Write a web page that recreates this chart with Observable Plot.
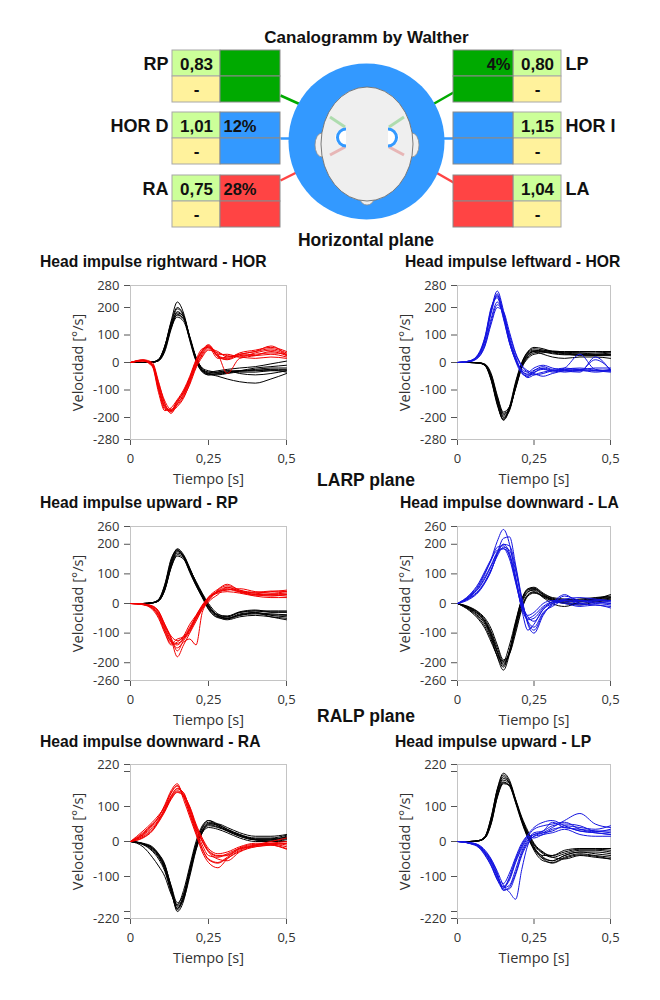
<!DOCTYPE html>
<html><head><meta charset="utf-8">
<script src="https://cdn.jsdelivr.net/npm/d3@7"></script>
<script src="https://cdn.jsdelivr.net/npm/@observablehq/plot@0.6"></script>
<style>
body{margin:0;background:#fff;}
#page{position:relative;width:660px;height:1000px;overflow:hidden;font-family:"Liberation Sans",Arial,sans-serif;}
.box{position:absolute;}
.ttl{position:absolute;font-weight:bold;font-size:15.7px;white-space:nowrap;line-height:1;transform:translateY(-50%);color:#111;}
.plane{position:absolute;font-weight:bold;font-size:17.5px;white-space:nowrap;line-height:1;transform:translate(-50%,-50%);left:366px;color:#111;}
</style></head><body><div id="page"></div>
<script>
// ---------- Canalogram data ----------
const canals = ["RP", "HOR D", "RA", "LP", "HOR I", "LA"];
const canalSide = ["L", "L", "L", "R", "R", "R"];
const canalRow = [0, 1, 2, 0, 1, 2];
const gains = ["0,83", "1,01", "0,75", "0,80", "1,15", "1,04"];
const secondValues = ["-", "-", "-", "-", "-", "-"];
const percents = ["", "12%", "28%", "4%", "", ""];
const canalColors = ["#00aa00", "#3399ff", "#ff4444", "#00aa00", "#3399ff", "#ff4444"];

// ---------- Trace data (time in s, velocity in deg/s) ----------
const times = [0, 0.04, 0.07, 0.09, 0.11, 0.13, 0.15, 0.17, 0.19, 0.21, 0.23, 0.25, 0.28, 0.31, 0.35, 0.40, 0.45, 0.50];
const xTicks = [0, 0.25, 0.5];

// Horizontal - rightward
const horRightHead = [
  [0, 0, 2, 10, 60, 150, 220, 180, 90, 10, -35, -45, -40, -35, -30, -25, -20, -20],
  [0, 0, 1, 8, 50, 130, 185, 165, 90, 15, -30, -45, -45, -40, -35, -35, -30, -30],
  [0, 0, 1, 6, 40, 120, 175, 160, 95, 20, -25, -40, -50, -60, -70, -75, -60, -40],
  [0, 0, 2, 12, 60, 140, 195, 170, 80, 5, -30, -35, -30, -25, -20, -15, -5, 5],
  [0, 0, 1, 7, 45, 125, 165, 150, 85, 18, -20, -30, -35, -30, -30, -28, -25, -25],
  [0, 0, 1, 9, 55, 135, 180, 168, 92, 12, -28, -42, -42, -38, -32, -30, -28, -35],
  [0, 0, 2, 11, 58, 145, 200, 172, 85, 8, -32, -40, -35, -30, -40, -45, -40, -30],
  [0, 0, 1, 7, 48, 128, 172, 158, 88, 16, -22, -35, -38, -35, -30, -20, -15, -10]
];
const horRightEye = [
  [0, 8, -10, -90, -160, -175, -140, -110, -60, 0, 40, 60, 20, 10, 25, 30, 35, 30],
  [0, 10, 0, -70, -150, -185, -150, -120, -70, -15, 30, 55, 30, -40, 15, 25, 40, 25],
  [0, 5, -15, -110, -175, -165, -135, -100, -50, 10, 50, 55, 15, 20, 30, 40, 50, 35],
  [0, 6, -5, -75, -140, -170, -155, -125, -80, -20, 20, 45, 35, 25, 20, 15, 20, 15],
  [0, 9, -8, -95, -165, -180, -145, -105, -55, 5, 45, 65, 25, 15, 35, 45, 55, 40],
  [0, 7, -12, -100, -170, -175, -150, -115, -65, -5, 35, 58, 28, 30, 20, 35, 45, 30],
  [0, 8, -6, -80, -150, -178, -160, -130, -75, -10, 25, 50, 40, 20, 30, 40, 60, 25],
  [0, 6, -10, -88, -158, -172, -138, -108, -58, 2, 42, 62, 22, 12, 28, 25, 30, 20]
];
// Horizontal - leftward
const horLeftHead = [
  [0, 0, -2, -10, -60, -150, -210, -170, -80, -5, 35, 45, 40, 35, 30, 30, 25, 25],
  [0, 0, -1, -8, -50, -130, -190, -165, -90, -15, 25, 40, 45, 40, 35, 35, 30, 30],
  [0, 0, -2, -12, -65, -155, -205, -160, -70, 0, 40, 55, 50, 40, 35, 30, 30, 35],
  [0, 0, -1, -6, -40, -120, -180, -160, -95, -20, 15, 30, 35, 40, 40, 40, 40, 40],
  [0, 0, -2, -9, -55, -140, -200, -175, -85, -10, 30, 40, 30, 20, 15, 20, 20, 15],
  [0, 0, -1, -9, -52, -135, -195, -170, -88, -12, 28, 42, 38, 32, 28, 28, 28, 28],
  [0, 0, -2, -11, -62, -148, -208, -165, -75, -3, 38, 50, 45, 38, 32, 25, 25, 30],
  [0, 0, -1, -7, -45, -125, -185, -168, -92, -18, 20, 35, 40, 42, 38, 35, 35, 38]
];
const horLeftEye = [
  [0, 5, 30, 80, 190, 260, 190, 90, 20, -30, -45, -35, -25, -30, -20, 30, -25, -30],
  [0, 4, 25, 70, 160, 220, 170, 80, 15, -35, -55, -45, -35, -30, -35, -30, -30, -25],
  [0, 6, 35, 95, 200, 235, 160, 70, 10, -25, -35, -20, -10, -20, -30, -35, 20, -30],
  [0, 3, 20, 60, 140, 200, 185, 110, 35, -10, -30, -40, -50, -40, -30, -25, -30, -35],
  [0, 5, 28, 85, 180, 245, 175, 75, 5, -40, -50, -30, -15, -25, -20, -25, -20, -20],
  [0, 5, 30, 88, 190, 250, 180, 82, 12, -35, -50, -38, -20, -28, -30, -28, -35, -28],
  [0, 4, 22, 65, 150, 210, 180, 100, 30, -15, -35, -45, -40, -30, -25, -30, 10, -25],
  [0, 6, 32, 90, 195, 240, 165, 72, 8, -30, -42, -28, -22, -35, -25, -20, -28, -32]
];
// LARP - upward RP
const rpHead = [
  [0, 0, 3, 12, 60, 140, 185, 165, 120, 70, 30, -10, -40, -50, -35, -30, -40, -45],
  [0, 0, 2, 10, 50, 125, 170, 160, 115, 75, 35, 0, -35, -45, -30, -25, -30, -30],
  [0, 0, 2, 8, 45, 120, 160, 150, 110, 65, 25, -15, -45, -55, -45, -40, -45, -50],
  [0, 0, 3, 14, 65, 150, 180, 155, 105, 60, 20, -20, -45, -45, -30, -25, -25, -25],
  [0, 0, 2, 9, 48, 130, 175, 160, 118, 72, 32, -5, -40, -50, -40, -35, -38, -40],
  [0, 0, 2, 11, 55, 135, 178, 162, 116, 70, 30, -8, -42, -50, -38, -32, -35, -38],
  [0, 0, 3, 13, 62, 145, 182, 158, 108, 62, 22, -18, -48, -52, -40, -32, -45, -55],
  [0, 0, 2, 9, 46, 122, 165, 155, 112, 68, 28, -10, -38, -42, -28, -22, -28, -28]
];
const rpEye = [
  [0, -3, -15, -40, -90, -130, -140, -120, -90, -50, -15, 15, 40, 50, 40, 35, 30, 30],
  [0, -2, -10, -30, -75, -120, -180, -140, -100, -60, -20, 10, 45, 60, 45, 35, 40, 45],
  [0, -4, -20, -50, -100, -140, -130, -110, -70, -40, -5, 20, 35, 40, 35, 25, 20, 20],
  [0, -3, -12, -35, -80, -125, -150, -130, -120, -140, -30, 5, 30, 55, 40, 30, 25, 30],
  [0, -2, -8, -25, -70, -110, -125, -115, -85, -45, -10, 20, 40, 45, 50, 40, 35, 40],
  [0, -3, -14, -38, -85, -128, -135, -118, -88, -48, -12, 18, 42, 55, 42, 30, 32, 35],
  [0, -2, -9, -28, -72, -115, -160, -125, -95, -55, -18, 12, 38, 48, 38, 28, 28, 25],
  [0, -4, -16, -45, -95, -135, -120, -112, -80, -42, -8, 22, 48, 65, 45, 38, 42, 40]
];
// LARP - downward LA
const laHead = [
  [0, -20, -45, -70, -115, -180, -225, -170, -70, 10, 45, 50, 30, 15, 10, 15, 20, 25],
  [0, -15, -35, -60, -100, -160, -200, -165, -80, -10, 30, 40, 25, 15, 5, 10, 15, 20],
  [0, -25, -55, -85, -130, -175, -195, -140, -60, 15, 50, 55, 35, 20, 15, 10, 10, 15],
  [0, -12, -30, -50, -85, -140, -190, -170, -100, -20, 25, 35, 25, 10, 0, -5, 5, 10],
  [0, -18, -40, -65, -110, -165, -210, -160, -75, 5, 40, 45, 20, 0, -10, 5, 15, 30],
  [0, -16, -38, -62, -105, -165, -205, -165, -78, 0, 38, 48, 28, 12, 5, 8, 12, 18],
  [0, -22, -50, -78, -122, -178, -215, -158, -65, 12, 48, 52, 32, 18, 12, 12, 18, 22],
  [0, -14, -32, -55, -95, -150, -195, -168, -90, -15, 28, 38, 22, 8, 2, 0, 8, 12]
];
const laEye = [
  [0, 25, 60, 100, 150, 210, 250, 200, 90, -20, -90, -70, -20, 0, 25, 10, 5, 0],
  [0, 20, 45, 75, 115, 160, 190, 180, 110, 10, -60, -80, -30, -10, 10, 5, 10, 5],
  [0, 30, 70, 110, 150, 180, 185, 150, 70, -10, -50, -40, -10, 5, 0, -10, -5, -15],
  [0, 15, 40, 70, 110, 170, 220, 225, 130, 20, -70, -100, -40, 0, 15, 20, 15, 10],
  [0, 22, 55, 90, 130, 175, 200, 170, 80, -5, -40, -30, 0, 10, 5, -5, 0, -5],
  [0, 18, 42, 72, 112, 165, 200, 195, 120, 15, -65, -90, -35, -5, 12, 10, 12, 8],
  [0, 28, 65, 105, 145, 190, 195, 160, 75, -15, -55, -50, -15, 5, 30, 0, -5, -10],
  [0, 24, 52, 85, 125, 170, 185, 165, 85, 0, -45, -60, -20, 5, 10, 0, 5, 0]
];
// RALP - downward RA
const raHead = [
  [0, -8, -25, -45, -80, -140, -195, -160, -80, -10, 40, 60, 45, 30, 15, 5, 5, 10],
  [0, -5, -15, -35, -65, -130, -185, -165, -100, -25, 25, 45, 40, 30, 15, 5, 5, 15],
  [0, -15, -45, -70, -100, -150, -180, -140, -70, 0, 45, 60, 50, 35, 20, 5, 0, 5],
  [0, -6, -20, -40, -75, -135, -200, -170, -90, -15, 30, 50, 50, 40, 25, 15, 15, 20],
  [0, -7, -18, -38, -70, -125, -175, -150, -85, -20, 25, 40, 35, 25, 10, 0, 0, 0],
  [0, -7, -22, -42, -78, -138, -190, -162, -88, -15, 32, 52, 45, 32, 18, 8, 8, 12],
  [0, -6, -18, -36, -68, -128, -182, -158, -92, -22, 28, 48, 42, 32, 18, 5, 2, 8],
  [0, -9, -28, -50, -85, -145, -192, -152, -78, -8, 38, 55, 48, 35, 20, 10, 10, 18]
];
const raEye = [
  [0, 30, 55, 75, 100, 140, 160, 130, 80, 30, -20, -50, -60, -45, -20, -10, -5, -5],
  [0, 15, 35, 60, 95, 130, 150, 140, 90, 40, 0, -30, -50, -55, -30, -15, -10, -20],
  [0, 20, 45, 70, 105, 145, 165, 120, 70, 20, -30, -60, -75, -50, -25, -10, 0, 10],
  [0, 10, 30, 55, 85, 120, 140, 130, 100, 50, 10, -20, -35, -30, -15, -5, -5, -10],
  [0, 25, 50, 65, 90, 125, 145, 135, 85, 35, -10, -40, -45, -35, -20, -15, -10, -5],
  [0, 18, 40, 62, 92, 128, 152, 138, 95, 42, 2, -28, -42, -40, -22, -12, -8, -15],
  [0, 22, 48, 70, 100, 138, 158, 128, 78, 25, -22, -52, -62, -48, -28, -12, -5, 0],
  [0, 12, 32, 58, 88, 122, 142, 132, 98, 45, 5, -25, -40, -38, -18, -8, -10, -22]
];
// RALP - upward LP
const lpHead = [
  [0, 0, 3, 15, 70, 150, 195, 175, 120, 60, 15, -25, -55, -60, -45, -35, -40, -45],
  [0, 0, 2, 12, 60, 135, 175, 165, 115, 65, 20, -15, -45, -55, -40, -30, -30, -35],
  [0, 0, 2, 10, 50, 125, 165, 160, 120, 70, 30, -5, -30, -45, -50, -40, -45, -50],
  [0, 0, 3, 14, 65, 145, 185, 165, 110, 55, 10, -20, -40, -40, -25, -20, -20, -20],
  [0, 0, 2, 11, 55, 130, 170, 158, 112, 62, 22, -10, -35, -45, -35, -25, -25, -30],
  [0, 0, 2, 12, 62, 140, 180, 168, 118, 62, 18, -18, -48, -55, -40, -30, -35, -40],
  [0, 0, 3, 14, 68, 148, 190, 170, 115, 58, 12, -22, -50, -62, -48, -38, -42, -50],
  [0, 0, 2, 10, 52, 128, 168, 160, 116, 66, 25, -8, -32, -40, -30, -22, -22, -25]
];
const lpEye = [
  [0, -5, -15, -35, -60, -100, -130, -110, -60, -20, 10, 20, 30, 55, 40, 35, 30, 25],
  [0, -3, -10, -25, -50, -85, -125, -145, -165, -80, -10, 15, 25, 40, 60, 80, 50, 40],
  [0, -6, -18, -40, -70, -110, -135, -100, -50, -10, 20, 40, 55, 60, 45, 30, 25, 20],
  [0, -4, -12, -30, -55, -95, -140, -130, -90, -35, 0, 20, 25, 30, 45, 40, 35, 45],
  [0, -5, -14, -32, -65, -105, -120, -90, -45, -5, 15, 10, 20, 25, 35, 20, 15, 15],
  [0, -4, -13, -33, -58, -98, -132, -125, -80, -28, 5, 25, 30, 45, 50, 45, 30, 30],
  [0, -5, -16, -38, -68, -108, -128, -105, -55, -15, 15, 35, 45, 50, 55, 35, 28, 35],
  [0, -3, -11, -28, -52, -90, -138, -135, -95, -40, -5, 15, 20, 35, 40, 30, 25, 20]
];

const yTicks280 = [-280, -200, -100, 0, 100, 200, 280];
const yTicks260 = [-260, -200, -100, 0, 100, 200, 260];
const yTicks220 = [-220, -200, -100, 0, 100, 200, 220];
const yHidden220 = [-200, 200];

const titles = ["Head impulse rightward - HOR", "Head impulse leftward - HOR",
  "Head impulse upward - RP", "Head impulse downward - LA",
  "Head impulse downward - RA", "Head impulse upward - LP"];
const planes = ["Horizontal plane", "LARP plane", "RALP plane"];

const RED = "#f20000", BLUE = "#1414e0";

const page = document.getElementById("page");
function place(node, left, top) {
  const d = document.createElement("div");
  d.className = "box"; d.style.left = left + "px"; d.style.top = top + "px";
  d.appendChild(node); page.appendChild(d); return d;
}

// ---------- Canalogram ----------
const rowTop = [50, 112, 175];
const half = 26;
const cells = [], gainText = [], dashText = [], labelL = [], labelR = [], pctL = [], pctR = [];
canals.forEach((c, i) => {
  const L = canalSide[i] === "L";
  const top = rowTop[canalRow[i]];
  const v1 = L ? 172 : 513, v2 = L ? 220 : 561;
  const c1 = L ? 220 : 453, c2 = L ? 280 : 513;
  cells.push({x1: v1, x2: v2, y1: top, y2: top + half, fill: "#ccff99", stroke: "#a8a8a8"});
  cells.push({x1: v1, x2: v2, y1: top + half, y2: top + 2 * half, fill: "#fff29c", stroke: "#a8a8a8"});
  cells.push({x1: c1, x2: c2, y1: top, y2: top + half, fill: canalColors[i], stroke: "#8a8a8a"});
  cells.push({x1: c1, x2: c2, y1: top + half, y2: top + 2 * half, fill: canalColors[i], stroke: "#8a8a8a"});
  gainText.push({x: (v1 + v2) / 2, y: top + half / 2 + 1, text: gains[i]});
  dashText.push({x: (v1 + v2) / 2, y: top + half * 1.5, text: secondValues[i]});
  (L ? labelL : labelR).push({x: L ? 168 : 565, y: top + half / 2 + 1, text: c});
  if (percents[i]) (L ? pctL : pctR).push({x: L ? 223 : 510, y: top + half / 2 + 1, text: percents[i]});
});
const links = [
  {x1: 280, y1: 95, x2: 300, y2: 104, stroke: "#00aa00"},
  {x1: 280, y1: 138, x2: 300, y2: 138, stroke: "#3399ff"},
  {x1: 280, y1: 180, x2: 300, y2: 170, stroke: "#ff4444"},
  {x1: 453, y1: 92, x2: 432, y2: 104, stroke: "#00aa00"},
  {x1: 453, y1: 138, x2: 432, y2: 138, stroke: "#3399ff"},
  {x1: 453, y1: 182, x2: 432, y2: 170, stroke: "#ff4444"}
];

function headMark() {
  const g = d3.create("svg:g");
  const cx = 367;
  [-1, 1].forEach(s => {
    g.append("ellipse").attr("cx", cx + s * 45).attr("cy", 145).attr("rx", 7).attr("ry", 12)
      .attr("fill", "#efefef").attr("stroke", "#8c8c8c").attr("stroke-width", 0.8);
  });
  g.append("circle").attr("cx", cx).attr("cy", 198).attr("r", 7)
    .attr("fill", "#efefef").attr("stroke", "#8c8c8c").attr("stroke-width", 0.8);
  g.append("ellipse").attr("cx", cx).attr("cy", 144).attr("rx", 46).attr("ry", 57)
    .attr("fill", "#efefef").attr("stroke", "#6e6e6e").attr("stroke-width", 0.9);
  [-1, 1].forEach(s => {
    const X = (d) => cx + s * d;
    const sweep = s < 0 ? 0 : 1;
    g.append("path").attr("d", `M${X(21)},${130} A8,8 0 1 ${sweep} ${X(21)},${145} Z`)
      .attr("fill", "#ffffff").attr("stroke", "none");
    g.append("line").attr("x1", X(37)).attr("y1", 117).attr("x2", X(22)).attr("y2", 127)
      .attr("stroke", "#9fd89f").attr("stroke-width", 3).attr("opacity", 0.8);
    g.append("line").attr("x1", X(37)).attr("y1", 155).attr("x2", X(22)).attr("y2", 147)
      .attr("stroke", "#e6a8a8").attr("stroke-width", 3).attr("opacity", 0.8);
    g.append("path").attr("d", `M${X(21)},${129} A8,8 0 1 ${sweep} ${X(21)},${146}`)
      .attr("fill", "none").attr("stroke", "#3399ff").attr("stroke-width", 3);
  });
  return g.node();
}

const bold = "'Liberation Sans', Arial, sans-serif";
const canal = Plot.plot({
  width: 660, height: 232,
  margin: 0,
  x: {domain: [0, 660], range: [0, 660], axis: null},
  y: {domain: [0, 232], range: [0, 232], axis: null},
  style: {fontFamily: bold, background: "transparent", overflow: "visible"},
  marks: [
    Plot.link(links, {x1: "x1", y1: "y1", x2: "x2", y2: "y2", stroke: d => d.stroke, strokeWidth: 2.5}),
    Plot.dot([{x: 366, y: 141}], {x: "x", y: "y", r: 78, fill: "#3399ff", stroke: "none"}),
    headMark,
    Plot.rect(cells, {x1: "x1", x2: "x2", y1: "y1", y2: "y2", fill: d => d.fill, stroke: d => d.stroke, strokeWidth: 1}),
    Plot.text(gainText, {x: "x", y: "y", text: "text", fontSize: 17, fontWeight: "bold", fill: "#111"}),
    Plot.text(dashText, {x: "x", y: "y", text: "text", fontSize: 17, fontWeight: "bold", fill: "#111"}),
    Plot.text(labelL, {x: "x", y: "y", text: "text", textAnchor: "end", fontSize: 18, fontWeight: "bold", fill: "#111"}),
    Plot.text(labelR, {x: "x", y: "y", text: "text", textAnchor: "start", fontSize: 18, fontWeight: "bold", fill: "#111"}),
    Plot.text(pctL, {x: "x", y: "y", text: "text", textAnchor: "start", fontSize: 16.5, fontWeight: "bold", fill: "#111"}),
    Plot.text(pctR, {x: "x", y: "y", text: "text", textAnchor: "end", fontSize: 16.5, fontWeight: "bold", fill: "#111"}),
    Plot.text(["Canalogramm by Walther"], {x: 366, y: 37, text: d => d, fontSize: 17, fontWeight: "bold", fill: "#111"})
  ]
});
place(canal, 0, 0);

// ---------- Subplots ----------
function rowsOf(traces, prefix) {
  const out = [];
  traces.forEach((tr, k) => tr.forEach((v, j) => out.push({t: times[j], v, id: prefix + k})));
  return out;
}
function makeSub(head, eye, eyeColor, ext, ticks, hidden, widthRight) {
  const svg = Plot.plot({
    width: 100 + widthRight + 24, height: 220,
    marginLeft: 100, marginRight: 24, marginTop: 15, marginBottom: 51,
    style: {fontFamily: "'Open Sans', 'Noto Sans', sans-serif", fontSize: "13px", color: "#555", background: "transparent", overflow: "visible"},
    x: {domain: [0, 0.5], ticks: xTicks, tickFormat: d => String(d).replace(".", ","), tickSize: 6, tickPadding: 8,
        label: "Tiempo [s]", labelAnchor: "center", labelOffset: 44, labelArrow: "none"},
    y: {domain: [-ext, ext], ticks: ticks, tickFormat: d => hidden.includes(d) ? "" : String(d), tickSize: 6, tickPadding: 5,
        label: "Velocidad [°/s]", labelAnchor: "center", labelOffset: 58, labelArrow: "none"},
    marks: [
      Plot.frame({stroke: "#c4c4c4"}),
      Plot.line(rowsOf(head, "h"), {x: "t", y: "v", z: "id", stroke: "#000", strokeWidth: 1, curve: "monotone-x"}),
      Plot.line(rowsOf(eye, "e"), {x: "t", y: "v", z: "id", stroke: eyeColor, strokeWidth: 1, curve: "monotone-x"})
    ]
  });
  d3.select(svg).selectAll("text").each(function() {
    const t = this.textContent;
    if (t === "Tiempo [s]" || t === "Velocidad [°/s]") d3.select(this).style("font-size", "14.5px").attr("fill", "#333");
    else d3.select(this).attr("fill", "#333");
  });
  return svg;
}

const rowTops = [270, 511, 749];
const cfgs = [
  [horRightHead, horRightEye, RED, 280, yTicks280, []],
  [horLeftHead, horLeftEye, BLUE, 280, yTicks280, []],
  [rpHead, rpEye, RED, 260, yTicks260, []],
  [laHead, laEye, BLUE, 260, yTicks260, []],
  [raHead, raEye, RED, 220, yTicks220, yHidden220],
  [lpHead, lpEye, BLUE, 220, yTicks220, yHidden220]
];
cfgs.forEach((c, i) => {
  const right = i % 2 === 1;
  const svg = makeSub(c[0], c[1], c[2], c[3], c[4], c[5], right ? 153 : 156);
  place(svg, right ? 357 : 30, rowTops[Math.floor(i / 2)]);
});

const titleY = [262, 503, 742];
const titleLeft = [40, 405, 40, 400, 40, 395];
titles.forEach((t, i) => {
  const d = document.createElement("div");
  d.className = "ttl"; d.textContent = t;
  d.style.left = titleLeft[i] + "px"; d.style.top = titleY[Math.floor(i / 2)] + "px";
  page.appendChild(d);
});
const planeY = [241, 481, 717];
planes.forEach((p, i) => {
  const d = document.createElement("div");
  d.className = "plane"; d.textContent = p; d.style.top = planeY[i] + "px";
  page.appendChild(d);
});
</script></body></html>
